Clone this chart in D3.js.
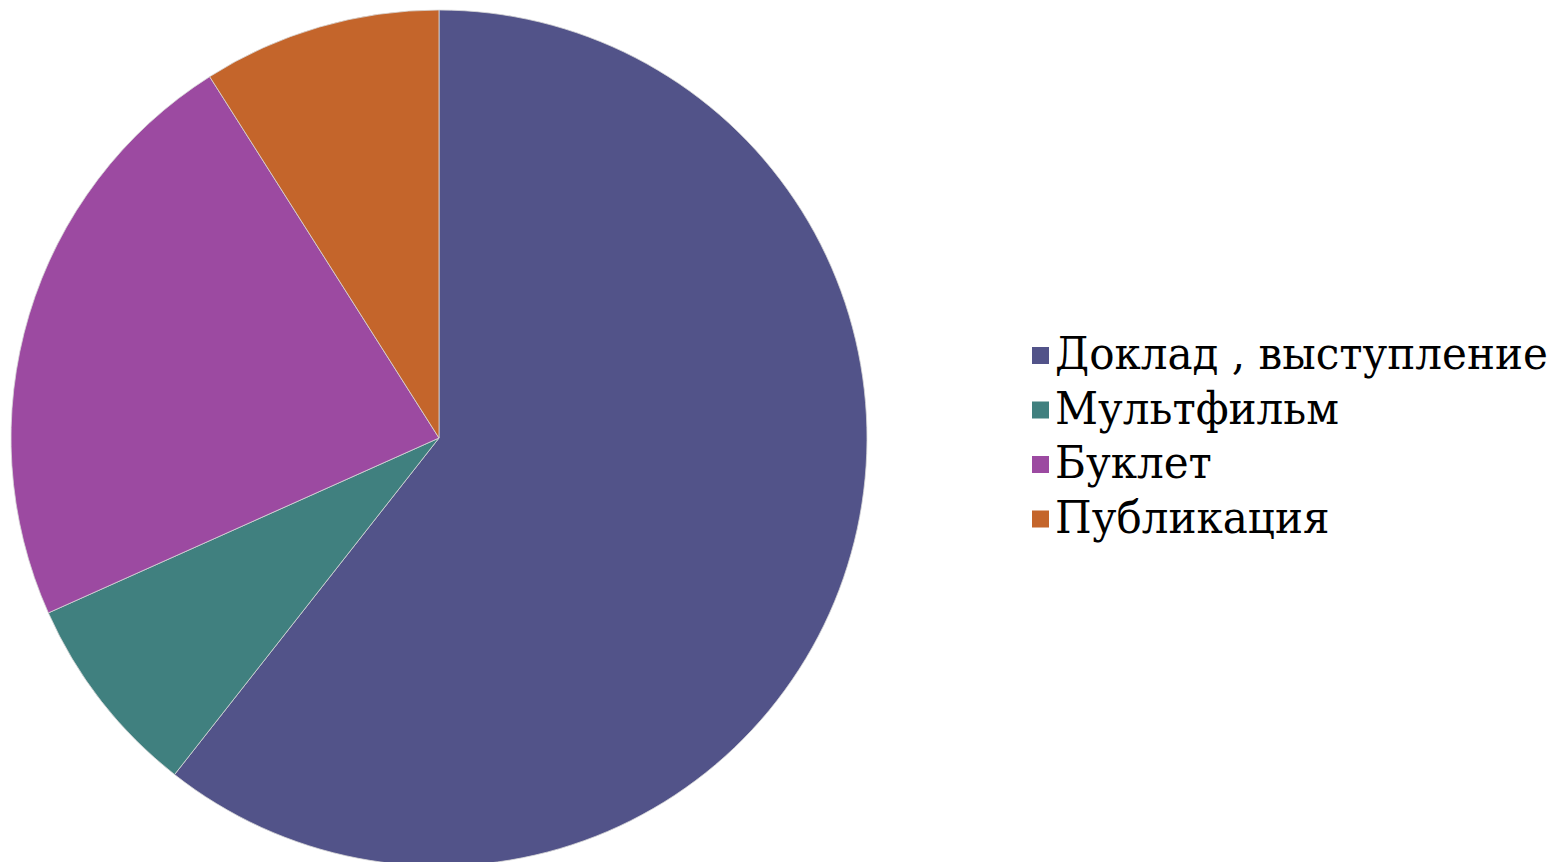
<!DOCTYPE html>
<html>
<head>
<meta charset="utf-8">
<script src="https://cdn.jsdelivr.net/npm/d3@7"></script>
<style>
  body { margin: 0; background: #fff; }
  svg { display: block; }
</style>
</head>
<body>
<svg id="canvas"></svg>
<script>
(function () {

    const width = 1567;
    const height = 862;
    const center = { x: 439, y: 438 };
    const radius = 428;
    const legendX = 1032;
    const legendTop = 369;
    const legendStep = 54.5;
    const fontSize = 44;
    const firstLabelWidth = 493;

    const categories = ["Доклад , выступление", "Мультфильм", "Буклет", "Публикация"];
    const values = [60.6, 7.7, 22.7, 9.0];
    const colors = ["#525389", "#40807f", "#9c4aa1", "#c4652b"];

    const data = categories.map((c, i) => ({ name: c, value: values[i] }));

    const svg = d3.select("#canvas")
        .attr("width", width)
        .attr("height", height);

    const color = d3.scaleOrdinal()
        .domain(categories)
        .range(colors);

    const pie = d3.pie()
        .value(d => d.value)
        .sort(null);

    const arc = d3.arc()
        .innerRadius(0)
        .outerRadius(radius);

    svg.append("g")
        .attr("transform", `translate(${center.x},${center.y})`)
        .selectAll("path")
        .data(pie(data))
        .enter()
        .append("path")
        .attr("d", arc)
        .attr("fill", d => color(d.data.name))
        .attr("stroke", "#d8d8d8")
        .attr("stroke-width", 0.8);

    // legend
    const legend = svg.append("g")
        .selectAll("g")
        .data(data)
        .enter()
        .append("g")
        .attr("transform", (d, i) => `translate(${legendX},${legendTop + i * legendStep})`);

    legend.append("rect")
        .attr("x", 0)
        .attr("y", -22)
        .attr("width", 17)
        .attr("height", 17)
        .attr("fill", d => color(d.name));

    const labels = legend.append("text")
        .attr("x", 0)
        .attr("y", 0)
        .attr("font-family", "DejaVu Serif, serif")
        .attr("font-size", fontSize)
        .attr("fill", "#000")
        .text(d => d.name);

    // squeeze the serif a bit so the longest label fits like in the original
    const kx = firstLabelWidth / labels.node().getComputedTextLength();
    labels.attr("transform", `translate(23,0) scale(${kx},1)`);

})();
</script>
</body>
</html>
